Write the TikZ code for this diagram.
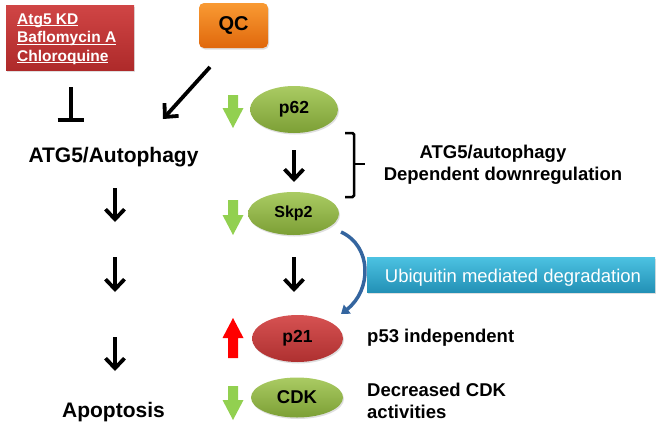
\documentclass[tikz,border=0pt]{standalone}
\usepackage{fontspec}
\setmainfont{Liberation Sans}
\usetikzlibrary{shapes.geometric,arrows.meta,shadows}
\definecolor{rbTop}{HTML}{D04545}
\definecolor{rbBot}{HTML}{AE2A2A}
\definecolor{orTop}{HTML}{F99A33}
\definecolor{orBot}{HTML}{E0680C}
\definecolor{grTop}{HTML}{AACB63}
\definecolor{grBot}{HTML}{7C9F35}
\definecolor{reTop}{HTML}{D65252}
\definecolor{reBot}{HTML}{AE3030}
\definecolor{blTop}{HTML}{4CC2E2}
\definecolor{blBot}{HTML}{2391B6}
\definecolor{arrGreen}{HTML}{92D050}
\definecolor{curveBlue}{HTML}{34659F}
\newcommand\myul[1]{\leavevmode\setbox0\hbox{#1}\rlap{\rule[-2.4pt]{\wd0}{1.3pt}}\box0}
\newcommand\fs[2]{\fontsize{#1}{#2}\selectfont}
\begin{document}
\begin{tikzpicture}[x=1pt,y=-1pt,
  shad/.style={drop shadow={opacity=0.25,shadow xshift=1pt,shadow yshift=-1.5pt}},
  redbox/.style={rectangle,top color=rbTop,bottom color=rbBot,draw=none,minimum width=128pt,minimum height=65pt,inner sep=0pt,shad},
  qcbox/.style={rectangle,rounded corners=5pt,top color=orTop,bottom color=orBot,draw=none,minimum width=69pt,minimum height=45pt,inner sep=0pt,font=\bfseries\fs{20}{24},shad},
  bluebox/.style={rectangle,top color=blTop,bottom color=blBot,draw=none,minimum width=288pt,minimum height=35pt,inner sep=0pt,shad},
  ellg/.style={ellipse,top color=grTop,bottom color=grBot,draw=none,inner sep=0pt,font=\bfseries\fs{17.5}{20},shad},
  ellr/.style={ellipse,top color=reTop,bottom color=reBot,draw=none,inner sep=0pt,font=\bfseries\fs{17.5}{20},shad},
  pics/dnarr/.style n args={2}{code={\fill[#2] (-5,0) -- (5,0) -- (5,#1-20) -- (10.5,#1-20) -- (0,#1) -- (-10.5,#1-20) -- (-5,#1-20) -- cycle;}},
  pics/uparr/.style n args={2}{code={\fill[#2] (-5,0) -- (5,0) -- (5,-#1+20) -- (10.5,-#1+20) -- (0,-#1) -- (-10.5,-#1+20) -- (-5,-#1+20) -- cycle;}},
  blk/.style={draw=black,line width=3.8pt,-{Straight Barb[width=19pt,length=10pt,line width=3.8pt]}},
  bigtxt/.style={font=\bfseries\fs{21}{24},anchor=base,inner sep=0pt},
  midtxt/.style={font=\bfseries\fs{18.5}{22},inner sep=0pt},
  redtxt/.style={font=\bfseries\fs{15.5}{18.5},text=white,anchor=base west,inner sep=0pt}
]
\useasboundingbox[fill=white] (0,0) rectangle (666,431);

% red box with inhibitors
\node[redbox] (rbox) at (70,37.5) {};
\node[redtxt] (t1) at (17,24) {\myul{Atg5 KD}};
\node[redtxt] (t2) at (17,42.5) {\myul{Baflomycin A}};
\node[redtxt] (t3) at (17,61) {\myul{Chloroquine}};

% QC box
\node[qcbox] (qc) at (233.5,25.5) {QC};

% inhibition symbol
\coordinate (inhT) at (71,87);
\coordinate (inhB) at (71,120);
\coordinate (inhL) at (57.5,120);
\coordinate (inhR) at (84,120);
\draw[line width=4pt] (inhT) -- (inhB);
\draw[line width=4pt] (inhL) -- (inhR);

% QC arrow
\coordinate (qcS) at (210,67);
\coordinate (qcE) at (163,119);
\draw[blk] (qcS) -- (qcE);

% left column
\node[bigtxt] (atg) at (113.5,162) {ATG5/Autophagy};
\node[bigtxt] (apop) at (113.5,417) {Apoptosis};
\coordinate (l1s) at (115,188); \coordinate (l1e) at (115,222);
\coordinate (l2s) at (115,257); \coordinate (l2e) at (115,292);
\coordinate (l3s) at (115,337); \coordinate (l3e) at (115,371);
\draw[blk] (l1s) -- (l1e);
\draw[blk] (l2s) -- (l2e);
\draw[blk] (l3s) -- (l3e);

% ellipses
\node[ellg,minimum width=88pt,minimum height=47pt] (p62) at (294,109.5) {p62};
\node[ellg,minimum width=91pt,minimum height=43pt,font=\bfseries\fs{16}{19}] (skp2) at (293.5,213.5) {Skp2};
\node[ellr,minimum width=91pt,minimum height=47pt] (p21) at (297.5,338.5) {p21};
\node[ellg,minimum width=92pt,minimum height=40pt,font=\bfseries\fs{18.5}{22}] (cdk) at (297,397.5) {CDK};

% small up/down arrows
\pic (g1) at (233,95) {dnarr={33}{arrGreen}};
\pic (g2) at (233,200) {dnarr={35}{arrGreen}};
\pic (r1) at (233,358) {uparr={40}{red}};
\pic (g3) at (233,386) {dnarr={34}{arrGreen}};

% center black arrows
\coordinate (c1s) at (294,150); \coordinate (c1e) at (294,182);
\coordinate (c2s) at (294,257); \coordinate (c2e) at (294,292);
\draw[blk] (c1s) -- (c1e);
\draw[blk] (c2s) -- (c2e);

% bracket
\coordinate (bT) at (345,133);
\coordinate (bB) at (345,197);
\coordinate (bM) at (354,164);
\coordinate (bMR) at (365,164);
\draw[line width=2.5pt,rounded corners=1.5pt] (bT) -- (354,133) -- (354,197) -- (bB);
\draw[line width=2.5pt] (bM) -- (bMR);
\node[midtxt,anchor=base] (dep1) at (493,158) {ATG5/autophagy};
\node[midtxt,anchor=base] (dep2) at (503,180) {Dependent downregulation};

% ubiquitin
\node[bluebox] (ubi) at (511,274.5) {};
\node[font=\fs{18.5}{22},text=white,anchor=base,inner sep=0pt] (ubit) at (513,282) {Ubiquitin mediated degradation};
\coordinate (cvS) at (341,232);
\coordinate (cvE) at (341,314);
\draw[curveBlue,line width=3.5pt,-{Triangle[width=11pt,length=8pt]}] (cvS) .. controls (372,246) and (372,290) .. (cvE);

% right texts
\node[midtxt,anchor=base west] (p53) at (367,342) {p53 independent};
\node[midtxt,anchor=base west] (dec1) at (367,396.5) {Decreased CDK};
\node[midtxt,anchor=base west] (dec2) at (367,418) {activities};
\end{tikzpicture}
\end{document}
